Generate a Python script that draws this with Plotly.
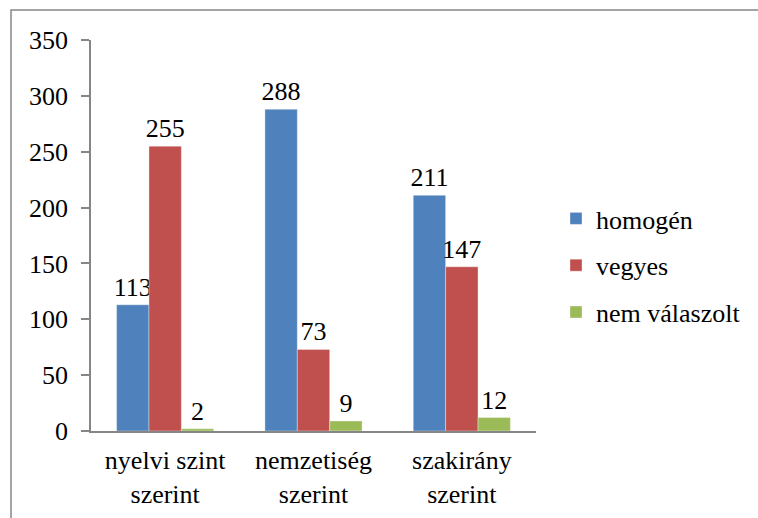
import plotly.graph_objects as go

categories = ["nyelvi szint<br>szerint", "nemzetiség<br>szerint", "szakirány<br>szerint"]
series_names = ["homogén", "vegyes", "nem válaszolt"]
homogen = [113, 288, 211]
vegyes = [255, 73, 147]
nem_valaszolt = [2, 9, 12]
colors = ["#4F81BD", "#C0504D", "#9BBB59"]
y_ticks = [0, 50, 100, 150, 200, 250, 300, 350]

FONT = "Liberation Serif"
FS = 26

fig = go.Figure()
for i, (name, vals) in enumerate(zip(series_names, [homogen, vegyes, nem_valaszolt])):
    fig.add_trace(go.Bar(
        x=categories, y=vals, name=name,
        marker=dict(color=colors[i], line=dict(color="rgba(255,255,255,0.6)", width=0.6)),
        text=[str(v) for v in vals], textposition="outside",
        textfont=dict(family=FONT, size=FS, color="black"),
        constraintext="none",
        cliponaxis=False, legendgroup=name,
    ))

W, H = 758, 518
L, R, T, B = 91, 222, 40, 87
pw, ph = W - L - R, H - T - B

def px(x):
    return (x - L) / pw

def py(y):
    return (H - B - y) / ph

fig.update_layout(
    width=W, height=H,
    margin=dict(l=L, r=R, t=T, b=B, autoexpand=False),
    paper_bgcolor="white", plot_bgcolor="white",
    barmode="group", bargap=0.345, bargroupgap=0,
    font=dict(family=FONT, size=FS, color="black"),
    showlegend=True,
    legend=dict(x=px(556), y=py(195), xanchor="left", yanchor="top",
                font=dict(family=FONT, size=FS, color="black"),
                tracegroupgap=10, traceorder="grouped", itemwidth=30,
                bgcolor="rgba(0,0,0,0)"),
    xaxis=dict(showline=True, linecolor="#868686", linewidth=2, ticks="",
               showgrid=False, ticklabelstandoff=5, automargin=False,
               tickfont=dict(family=FONT, size=FS, color="black")),
    yaxis=dict(range=[0, 350], tickvals=y_ticks, showline=True, linecolor="#868686",
               linewidth=1.5, ticks="outside", ticklen=8, tickcolor="#868686", tickwidth=1.5,
               showgrid=False, zeroline=False, ticklabelstandoff=8, automargin=False,
               tickfont=dict(family=FONT, size=FS, color="black")),
    shapes=[dict(type="rect", xref="paper", yref="paper",
                 x0=px(11), x1=px(W + 20), y0=py(H + 20), y1=py(10),
                 line=dict(color="#878787", width=1.5), fillcolor="rgba(0,0,0,0)", layer="below")],
)

fig.write_html("out.html", config={"displayModeBar": False},
               post_script="document.body.style.margin='0';document.body.style.overflow='hidden';")
